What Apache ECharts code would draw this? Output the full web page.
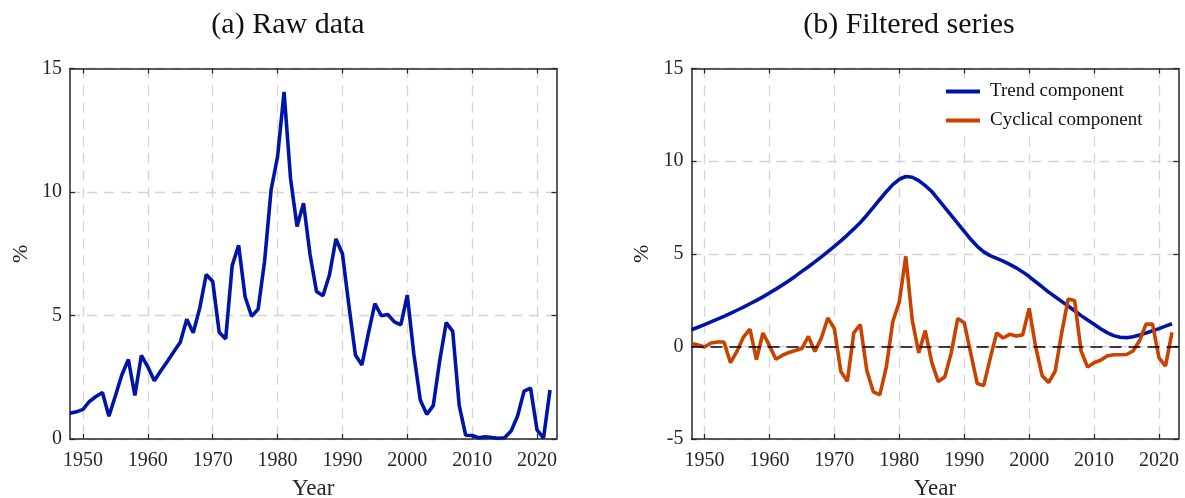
<!DOCTYPE html>
<html>
<head>
<meta charset="utf-8">
<script src="https://cdn.jsdelivr.net/npm/echarts@6/dist/echarts.min.js"></script>
<style>
  html, body { margin: 0; padding: 0; background: #fff; }
  #chart { width: 1185px; height: 498px; }
</style>
</head>
<body>
<div id="chart"></div>
<script>
// years of the annual series
const years = [
  1948, 1949, 1950, 1951, 1952, 1953, 1954, 1955, 1956, 1957,
  1958, 1959, 1960, 1961, 1962, 1963, 1964, 1965, 1966, 1967,
  1968, 1969, 1970, 1971, 1972, 1973, 1974, 1975, 1976, 1977,
  1978, 1979, 1980, 1981, 1982, 1983, 1984, 1985, 1986, 1987,
  1988, 1989, 1990, 1991, 1992, 1993, 1994, 1995, 1996, 1997,
  1998, 1999, 2000, 2001, 2002, 2003, 2004, 2005, 2006, 2007,
  2008, 2009, 2010, 2011, 2012, 2013, 2014, 2015, 2016, 2017,
  2018, 2019, 2020, 2021, 2022
]

// (a) raw data, %
const rawData = [
  1.04, 1.10, 1.20, 1.52, 1.72, 1.88, 0.92, 1.75, 2.60, 3.22,
  1.76, 3.38, 2.92, 2.36, 2.76, 3.14, 3.53, 3.92, 4.85, 4.30,
  5.30, 6.66, 6.38, 4.32, 4.05, 7.02, 7.84, 5.75, 4.97, 5.25,
  7.20, 10.08, 11.43, 14.05, 10.55, 8.60, 9.55, 7.48, 5.97, 5.80,
  6.65, 8.10, 7.50, 5.40, 3.40, 3.00, 4.28, 5.48, 4.99, 5.04,
  4.74, 4.62, 5.82, 3.45, 1.58, 1.00, 1.35, 3.18, 4.71, 4.36,
  1.36, 0.15, 0.14, 0.05, 0.09, 0.06, 0.03, 0.05, 0.32, 0.93,
  1.94, 2.06, 0.37, 0.04, 1.98
]

// (b) trend component
const trendData = [
  0.90, 1.03, 1.17, 1.32, 1.47, 1.62, 1.78, 1.95, 2.12, 2.30,
  2.48, 2.67, 2.88, 3.09, 3.31, 3.54, 3.79, 4.05, 4.30, 4.56,
  4.83, 5.11, 5.40, 5.70, 6.01, 6.34, 6.69, 7.08, 7.50, 7.93,
  8.35, 8.73, 9.02, 9.17, 9.13, 8.95, 8.68, 8.36, 7.93, 7.50,
  7.07, 6.64, 6.21, 5.78, 5.40, 5.10, 4.90, 4.75, 4.60, 4.43,
  4.24, 4.02, 3.77, 3.49, 3.21, 2.93, 2.68, 2.43, 2.18, 1.92,
  1.66, 1.42, 1.19, 0.95, 0.74, 0.58, 0.49, 0.47, 0.52, 0.61,
  0.72, 0.84, 0.96, 1.09, 1.22
]

// (b) cyclical component
const cycleData = [
  0.15, 0.08, -0.03, 0.18, 0.24, 0.24, -0.88, -0.27, 0.50, 0.93,
  -0.72, 0.72, 0.04, -0.70, -0.48, -0.33, -0.22, -0.12, 0.54, -0.28,
  0.45, 1.53, 0.96, -1.35, -1.88, 0.74, 1.17, -1.30, -2.45, -2.62,
  -1.12, 1.33, 2.40, 4.86, 1.40, -0.35, 0.85, -0.86, -1.90, -1.65,
  -0.35, 1.50, 1.28, -0.36, -2.00, -2.12, -0.65, 0.72, 0.45, 0.65,
  0.56, 0.62, 2.05, -0.02, -1.58, -1.95, -1.35, 0.70, 2.55, 2.48,
  -0.25, -1.12, -0.88, -0.75, -0.52, -0.45, -0.45, -0.44, -0.25, 0.30,
  1.20, 1.20, -0.62, -1.06, 0.76
]

const yearTicks = [1950, 1960, 1970, 1980, 1990, 2000, 2010, 2020]

const FONT = 'Liberation Serif'
const AXIS_COLOR = '#262626'
const BLUE = '#0015a8'
const ORANGE = '#c84300'

const pairs = (vals) => years.map((y, i) => [y, vals[i]])

function bottomX (gridIndex) {
  return {
    type: 'value', gridIndex, min: 1948, max: 2023, position: 'bottom',
    name: 'Year', nameLocation: 'middle', nameGap: 38,
    nameTextStyle: { fontFamily: FONT, fontSize: 23, color: AXIS_COLOR },
    axisLine: { show: true, onZero: false, lineStyle: { color: AXIS_COLOR, width: 1.5 } },
    axisTick: { show: true, inside: true, length: 5, customValues: yearTicks, lineStyle: { color: AXIS_COLOR, width: 1.2 } },
    axisLabel: { customValues: yearTicks, formatter: (v) => String(v), fontFamily: FONT, fontSize: 20, color: AXIS_COLOR, margin: 12 },
    splitLine: { show: true, lineStyle: { color: '#d4d4d4', type: [10, 7], width: 1.3 } }
  }
}

function topX (gridIndex) {
  return {
    type: 'value', gridIndex, min: 1948, max: 2023, position: 'top',
    axisLine: { show: true, onZero: false, lineStyle: { color: AXIS_COLOR, width: 1.5 } },
    axisTick: { show: true, inside: true, length: 5, customValues: yearTicks, lineStyle: { color: AXIS_COLOR, width: 1.2 } },
    axisLabel: { show: false },
    splitLine: { show: false }
  }
}

function leftY (gridIndex, min) {
  return {
    type: 'value', gridIndex, min, max: 15, interval: 5, position: 'left',
    name: '%', nameLocation: 'middle', nameGap: 38, nameRotate: 90,
    nameTextStyle: { fontFamily: FONT, fontSize: 22, color: AXIS_COLOR },
    axisLine: { show: true, onZero: false, lineStyle: { color: AXIS_COLOR, width: 1.5 } },
    axisTick: { show: true, inside: true, length: 5, lineStyle: { color: AXIS_COLOR, width: 1.2 } },
    axisLabel: { fontFamily: FONT, fontSize: 20, color: AXIS_COLOR, margin: 8 },
    splitLine: { show: true, lineStyle: { color: '#d4d4d4', type: [10, 7], width: 1.3 } }
  }
}

function rightY (gridIndex, min) {
  return {
    type: 'value', gridIndex, min, max: 15, interval: 5, position: 'right',
    axisLine: { show: true, onZero: false, lineStyle: { color: AXIS_COLOR, width: 1.5 } },
    axisTick: { show: true, inside: true, length: 5, lineStyle: { color: AXIS_COLOR, width: 1.2 } },
    axisLabel: { show: false },
    splitLine: { show: false }
  }
}

const chart = echarts.init(document.getElementById('chart'), null, { renderer: 'canvas' })

chart.setOption({
  backgroundColor: '#fff',
  animation: false,
  title: [
    { text: '(a) Raw data', left: 283, top: 5, textAlign: 'center',
      textStyle: { fontFamily: FONT, fontSize: 30, fontWeight: 'normal', color: '#111' } },
    { text: '(b) Filtered series', left: 904, top: 5, textAlign: 'center',
      textStyle: { fontFamily: FONT, fontSize: 30, fontWeight: 'normal', color: '#111' } }
  ],
  legend: {
    orient: 'vertical', left: 940, top: 80,
    icon: 'rect', itemWidth: 34, itemHeight: 4, itemGap: 10,
    backgroundColor: '#fff', padding: [2, 8, 3, 6],
    textStyle: { fontFamily: FONT, fontSize: 19, color: '#111', padding: [0, 0, 0, 5] },
    data: ['Trend component', 'Cyclical component']
  },
  grid: [
    { left: 70, top: 68.5, right: 628.5, bottom: 59, outerBoundsMode: 'none' },
    { left: 691.5, top: 68.5, right: 6.5, bottom: 59, outerBoundsMode: 'none' }
  ],
  xAxis: [bottomX(0), topX(0), bottomX(1), topX(1)],
  yAxis: [leftY(0, 0), rightY(0, 0), leftY(1, -5), rightY(1, -5)],
  series: [
    {
      name: 'Raw data', type: 'line', xAxisIndex: 0, yAxisIndex: 0,
      data: pairs(rawData), showSymbol: false, symbol: 'none',
      lineStyle: { color: BLUE, width: 3.6 }, itemStyle: { color: BLUE }
    },
    {
      name: 'Trend component', type: 'line', xAxisIndex: 2, yAxisIndex: 2,
      data: pairs(trendData), showSymbol: false, symbol: 'none', smooth: false,
      lineStyle: { color: BLUE, width: 3.6 }, itemStyle: { color: BLUE }
    },
    {
      name: 'Cyclical component', type: 'line', xAxisIndex: 2, yAxisIndex: 2,
      data: pairs(cycleData), showSymbol: false, symbol: 'none',
      lineStyle: { color: ORANGE, width: 3.6 }, itemStyle: { color: ORANGE },
      markLine: {
        silent: true, symbol: 'none', label: { show: false },
        lineStyle: { color: '#000', type: [12, 7], width: 1.6 },
        data: [{ yAxis: 0 }]
      }
    }
  ]
})
</script>
</body>
</html>
